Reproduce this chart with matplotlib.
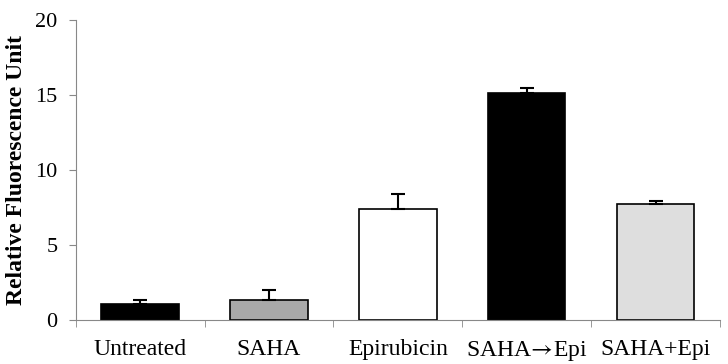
import matplotlib
matplotlib.use('Agg')
from matplotlib import pyplot as plt
import numpy as np

categories = ['Untreated', 'SAHA', 'Epirubicin', 'SAHA$\\!\\rightarrow\\!$Epi', 'SAHA+Epi']
values = [1.08, 1.35, 7.42, 15.15, 7.72]
errors = [0.27, 0.62, 0.97, 0.35, 0.2]
colors = ['#000000', '#a9a9a9', '#ffffff', '#000000', '#dedede']

plt.rcParams['font.family'] = ['Liberation Serif', 'DejaVu Serif']
plt.rcParams['mathtext.fontset'] = 'stix'

fig = plt.figure(figsize=(7.28, 3.64), dpi=100)
ax = fig.add_axes([0.104, 0.121, 0.885, 0.824])

x = np.arange(len(categories))
ax.bar(x, values, width=0.6, color=colors, edgecolor='black', linewidth=1.2)
ax.errorbar(x, values, yerr=[np.zeros(len(errors)), errors], fmt='none',
            ecolor='black', elinewidth=1.5, capsize=5, capthick=1.5)

ax.set_xlim(-0.5, 4.5)
ax.set_ylim(0, 20)
ax.set_yticks([0, 5, 10, 15, 20])
ax.set_xticks(x)
ax.set_xticklabels(categories, fontsize=17)
ax.tick_params(axis='x', which='major', length=0, pad=14)
ax.set_xticks(np.arange(-0.5, 5, 1), minor=True)
ax.tick_params(axis='x', which='minor', length=5, color='#888888')
ax.tick_params(axis='y', labelsize=16, length=5, color='#888888', pad=8)

for s in ['top', 'right']:
    ax.spines[s].set_visible(False)
for s in ['left', 'bottom']:
    ax.spines[s].set_color('#888888')

ax.set_ylabel('Relative Fluorescence Unit', fontsize=17, fontweight='bold', labelpad=6)

plt.savefig('out.png', dpi=100)
